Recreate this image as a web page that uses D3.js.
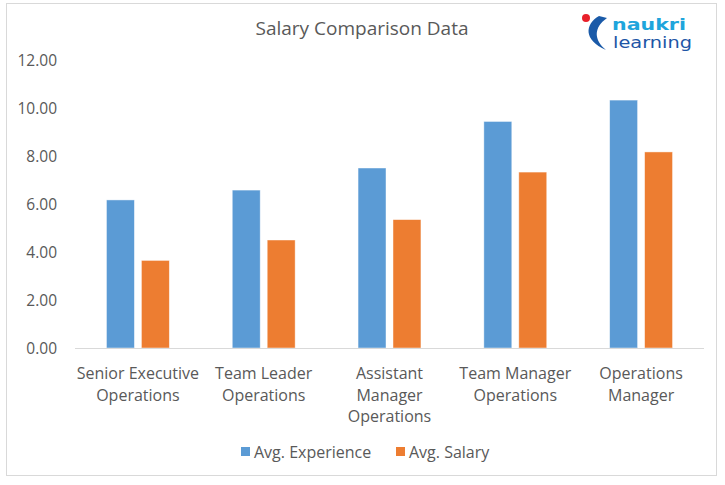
<!DOCTYPE html>
<html><head><meta charset="utf-8">
<script src="https://cdn.jsdelivr.net/npm/d3@7"></script>
<style>html,body{margin:0;padding:0;background:#fff;}</style>
</head><body><svg id="c" width="725" height="485"></svg>
<script>
const categories = [["Senior Executive","Operations"],["Team Leader","Operations"],["Assistant","Manager","Operations"],["Team Manager","Operations"],["Operations","Manager"]];
const seriesNames = ["Avg. Experience","Avg. Salary"];
const experience = [6.17, 6.58, 7.50, 9.44, 10.33];
const salary = [3.65, 4.50, 5.35, 7.33, 8.17];
const yTicks = [0,2,4,6,8,10,12];
const colors = ["#5B9BD5","#ED7D31"];
const FONT = "'Open Sans', 'Noto Sans', sans-serif";

const svg = d3.select("#c");
svg.append("rect").attr("x",6.5).attr("y",3.5).attr("width",710).attr("height",472)
  .attr("fill","#fff").attr("stroke","#d9d9d9");

const pLeft=75, pRight=704, pTop=60, pBottom=348;
const keys = categories.map((c,i)=>i);
const x0 = d3.scaleBand().domain(keys).range([pLeft,pRight]).paddingInner(0.5).paddingOuter(0.25);
const x1 = d3.scaleBand().domain(seriesNames).range([0,x0.bandwidth()]).paddingInner(0.2);
const y = d3.scaleLinear().domain([0,12]).range([pBottom,pTop]);

// title
svg.append("text").attr("x",362).attr("y",35).attr("text-anchor","middle")
  .attr("font-family",FONT).attr("font-size",19).attr("fill","#595959").text("Salary Comparison Data");

// y axis
const yAxis = d3.axisLeft(y).tickValues(yTicks).tickFormat(d3.format(".2f")).tickSize(0).tickPadding(0);
const yg = svg.append("g").attr("transform",`translate(57,0)`).call(yAxis);
yg.select(".domain").remove();
yg.selectAll("text").attr("font-family",FONT).attr("font-size",15.5).attr("fill","#595959").attr("dy","0.35em");

// bars
const data = keys.map(i=>({i, vals:[experience[i], salary[i]]}));
const g = svg.append("g");
g.selectAll("g.grp").data(data).join("g").attr("class","grp")
  .attr("transform",d=>`translate(${x0(d.i)},0)`)
  .selectAll("rect").data(d=>d.vals.map((v,k)=>({k,v}))).join("rect")
  .attr("x",d=>x1(seriesNames[d.k])).attr("width",x1.bandwidth())
  .attr("y",d=>y(d.v)).attr("height",d=>y(0)-y(d.v))
  .attr("fill",d=>colors[d.k]).attr("stroke","rgba(255,255,255,0.6)").attr("stroke-width",0.75);

// baseline
svg.append("line").attr("x1",pLeft).attr("x2",pRight).attr("y1",y(0)+0.5).attr("y2",y(0)+0.5)
  .attr("stroke","#d9d9d9").attr("stroke-width",1);

// x labels
const xl = svg.append("g");
data.forEach(d=>{
  const cx = x0(d.i)+x0.bandwidth()/2;
  const t = xl.append("text").attr("text-anchor","middle").attr("font-family",FONT)
    .attr("font-size",16).attr("fill","#595959");
  categories[d.i].forEach((line,j)=>{
    t.append("tspan").attr("x",cx).attr("y",379+j*21.5).text(line);
  });
});

// legend
const leg = svg.append("g");
const legX = [241, 396];
seriesNames.forEach((s,k)=>{
  leg.append("rect").attr("x",legX[k]).attr("y",447).attr("width",9).attr("height",9).attr("fill",colors[k]);
  leg.append("text").attr("x",legX[k]+13).attr("y",457.5).attr("font-family",FONT).attr("font-size",16)
    .attr("fill","#595959").text(s);
});

// logo
const logo = svg.append("g");
logo.append("circle").attr("cx",586).attr("cy",18).attr("r",4).attr("fill","#e8202a");
logo.append("path").attr("d","M599,16 C585,24 583,40 606,50 C594,40 593,28 607,18 Z").attr("fill","#1a5aa8");
logo.append("text").attr("x",612).attr("y",30).attr("font-family","'DejaVu Sans', sans-serif").attr("font-weight","bold")
  .attr("font-size",16).attr("fill","#1ea5dc").attr("textLength",74).attr("lengthAdjust","spacingAndGlyphs").text("naukri");
logo.append("text").attr("x",613).attr("y",48).attr("font-family","'DejaVu Sans', sans-serif")
  .attr("font-size",15).attr("fill","#1e56a6").attr("textLength",79).attr("lengthAdjust","spacingAndGlyphs").text("learning");
</script></body></html>
